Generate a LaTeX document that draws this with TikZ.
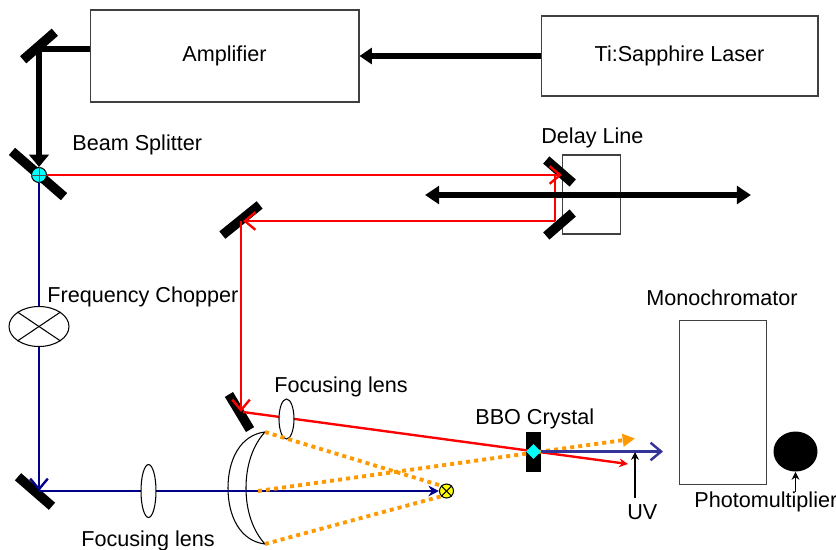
\documentclass[tikz,border=0pt]{standalone}
\usepackage{fontspec}
\setmainfont{Liberation Sans}
\usetikzlibrary{arrows.meta,shapes.geometric}
\definecolor{beamnavy}{RGB}{0,0,139}
\definecolor{uvblue}{RGB}{51,51,153}
\definecolor{beamorange}{RGB}{255,153,0}
\definecolor{dotcyan}{RGB}{0,255,255}
\definecolor{dotyellow}{RGB}{255,255,0}
\definecolor{beamred}{RGB}{255,0,0}
\tikzset{
    unitbox/.style={draw=black!75, line width=0.6pt, inner sep=0pt},
    mirror/.style={fill=black, inner sep=0pt, minimum height=0.19cm},
    lens/.style={ellipse, draw=black, fill=white, line width=0.6pt, inner sep=0pt, minimum width=0.3cm},
    label/.style={anchor=west, inner sep=0pt, font=\fontsize{12.3}{14}\selectfont},
    pumpbeam/.style={black, line width=3.3pt},
    redbeam/.style={beamred, line width=1.35pt},
    bluebeam/.style={beamnavy, line width=1.35pt},
    orangebeam/.style={beamorange, line width=2.2pt, dash pattern=on 2.3pt off 2.3pt},
    openhead/.style={-{Straight Barb[length=6pt,width=10pt]}},
    pointer/.style={-{Stealth[length=4.5pt,width=4.5pt]}, black, line width=0.6pt}
}
\begin{document}
\begin{tikzpicture}[x=0.02cm,y=-0.02cm]
    \useasboundingbox (0,0) rectangle (836,549);

    % Boxes
    \node[unitbox, minimum width=5.38cm, minimum height=1.84cm, font=\fontsize{12.3}{14}\selectfont] (amplifier) at (224.5,56) {\raisebox{-1.5pt}{Amplifier}};
    \node[unitbox, minimum width=5.54cm, minimum height=1.6cm, font=\fontsize{12.3}{14}\selectfont] (laser) at (679.5,56) {\raisebox{-1.5pt}{Ti:Sapphire Laser}};
    \node[unitbox, minimum width=1.17cm, minimum height=1.58cm] (delaybox) at (591.5,194.5) {};
    \node[unitbox, minimum width=1.75cm, minimum height=3.29cm] (monochromator) at (723,402.5) {};

    % Mirrors
    \node[mirror, minimum width=0.84cm, rotate=41] (mirrortop) at (39,46) {};
    \node[mirror, minimum width=1.38cm, rotate=-41] (mirrorsplit) at (38,174) {};
    \node[mirror, minimum width=0.7cm, rotate=-41] (delayup) at (559.5,171.5) {};
    \node[mirror, minimum width=0.7cm, rotate=41] (delaydown) at (559.5,224.5) {};
    \node[mirror, minimum width=0.96cm, rotate=39] (mirrorfold) at (241,220) {};
    \node[mirror, minimum width=0.82cm, rotate=-59] (mirrorlens) at (239.5,412) {};
    \node[mirror, minimum width=0.9cm, rotate=-41] (mirrorblue) at (35,491.5) {};
    \node[fill=black, inner sep=0pt, minimum width=0.31cm, minimum height=0.8cm] (crystal) at (533.5,451.5) {};

    % Beam corners and free ends
    \coordinate (turntop) at (39,49);
    \coordinate (amplifierout) at (90,49);
    \coordinate (hitdelay) at (562,175);
    \coordinate (leavesplit) at (39,175);
    \coordinate (delaycorner) at (555,175);
    \coordinate (delayback) at (555,221);
    \coordinate (foldin) at (243,221);
    \coordinate (foldout) at (241,221);
    \coordinate (hitlens) at (241,412);
    \coordinate (redfrom) at (243,412);
    \coordinate (redend) at (628,464);
    \coordinate (hitblue) at (39,491);
    \coordinate (stagewest) at (425,195);
    \coordinate (stageeast) at (751,195);
    \coordinate (uvend) at (663,451.5);
    \coordinate (uvfoot) at (635,498);
    \coordinate (uvtop) at (635,452);
    \coordinate (orangeup) at (265,432);
    \coordinate (orangedown) at (265,544);
    \coordinate (orangemid) at (258,491);
    \coordinate (orangeend) at (635,438.5);

    % Focusing mirror
    \draw[black, line width=0.6pt] (orangeup) .. controls (240,435) and (228,460) .. (228,488) .. controls (228,516) and (240,541) .. (orangedown);
    \draw[black, line width=0.6pt] (orangeup) .. controls (253,445) and (246,465) .. (246,488) .. controls (246,511) and (253,531) .. (orangedown);

    % Blue beam
    \node[ellipse, draw=black, fill=white, line width=0.6pt, inner sep=0pt, minimum width=1.2cm, minimum height=0.8cm] (chopper) at (39,326.5) {};
    \draw[black, line width=0.6pt] (chopper.north west) -- (chopper.south east);
    \draw[black, line width=0.6pt] (chopper.north east) -- (chopper.south west);
    \node[circle, draw=black, fill=dotyellow, line width=0.6pt, inner sep=0pt, minimum size=0.28cm] (focus) at (446.5,491) {};
    \draw[black, line width=0.6pt] (focus.north west) -- (focus.south east);
    \draw[black, line width=0.6pt] (focus.north east) -- (focus.south west);
    \draw[bluebeam] (leavesplit) -- (chopper.north);
    \draw[bluebeam, openhead] (chopper.south) -- (hitblue);
    \draw[bluebeam, -{Stealth[length=6pt,width=6pt]}] (hitblue) -- (focus.west);
    \node[lens, minimum height=1.06cm] (lensblue) at (148.5,491) {};

    % Red beam
    \draw[redbeam, openhead] (leavesplit) -- (hitdelay);
    \draw[redbeam] (delaycorner) -- (delayback);
    \draw[redbeam, openhead] (delayback) -- (foldin);
    \draw[redbeam, openhead] (foldout) -- (hitlens);
    \draw[redbeam, -{Stealth[length=5pt,width=5pt]}] (redfrom) -- (redend);
    \node[lens, minimum height=0.8cm] (lensred) at (286.5,419) {};

    % Pump beam
    \node[circle, draw=black, fill=dotcyan, line width=0.6pt, inner sep=0pt, minimum size=0.3cm] (splitter) at (39,175) {};
    \draw[black!70, line width=0.4pt] (splitter.north) -- (splitter.south);
    \draw[black!70, line width=0.4pt] (splitter.west) -- (splitter.east);
    \draw[pumpbeam] (amplifierout) -- (turntop);
    \draw[pumpbeam, -{Stealth[length=7pt,width=11pt,inset=0pt]}] (turntop) -- (splitter.north);
    \draw[pumpbeam, -{Stealth[length=7pt,width=9pt,inset=0pt]}] (laser.west) -- (amplifier.east);
    \draw[pumpbeam, {Stealth[length=8pt,width=10pt,inset=0pt]}-{Stealth[length=8pt,width=10pt,inset=0pt]}] (stagewest) -- (stageeast);

    % Orange beam
    \draw[orangebeam] (orangeup) -- (focus.north west);
    \draw[orangebeam] (orangedown) -- (focus.south west);
    \draw[orangebeam, -{Stealth[length=7pt,width=7pt,inset=0pt]}] (orangemid) -- (orangeend);

    % Crystal exit
    \node[diamond, fill=dotcyan, inner sep=0pt, minimum size=0.3cm] (crystaldot) at (533.5,451.5) {};
    \draw[uvblue, line width=1.4pt, openhead] (crystaldot.east) -- (uvend);
    \draw[pointer] (uvfoot) -- (uvtop);

    % Photomultiplier
    \node[ellipse, fill=black, inner sep=0pt, minimum width=0.88cm, minimum height=0.8cm] (detector) at (795.5,451.5) {};
    \coordinate (detectorfoot) at (795.5,492);
    \draw[pointer] (detectorfoot) -- (detector.south);

    % Labels
    \node[label] (splitterlabel) at (72,144.5) {Beam Splitter};
    \node[label] (delaylabel) at (541,137.5) {Delay Line};
    \node[label] (chopperlabel) at (47,296.5) {Frequency Chopper};
    \node[label] (lensredlabel) at (274,386.5) {Focusing lens};
    \node[label] (lensbluelabel) at (81,540.5) {Focusing lens};
    \node[label] (crystallabel) at (475,418.5) {BBO Crystal};
    \node[label] (monolabel) at (646,297.5) {Monochromator};
    \node[label] (detectorlabel) at (694,501.5) {Photomultiplier};
    \node[label] (uvlabel) at (627,512.5) {UV};
\end{tikzpicture}
\end{document}
